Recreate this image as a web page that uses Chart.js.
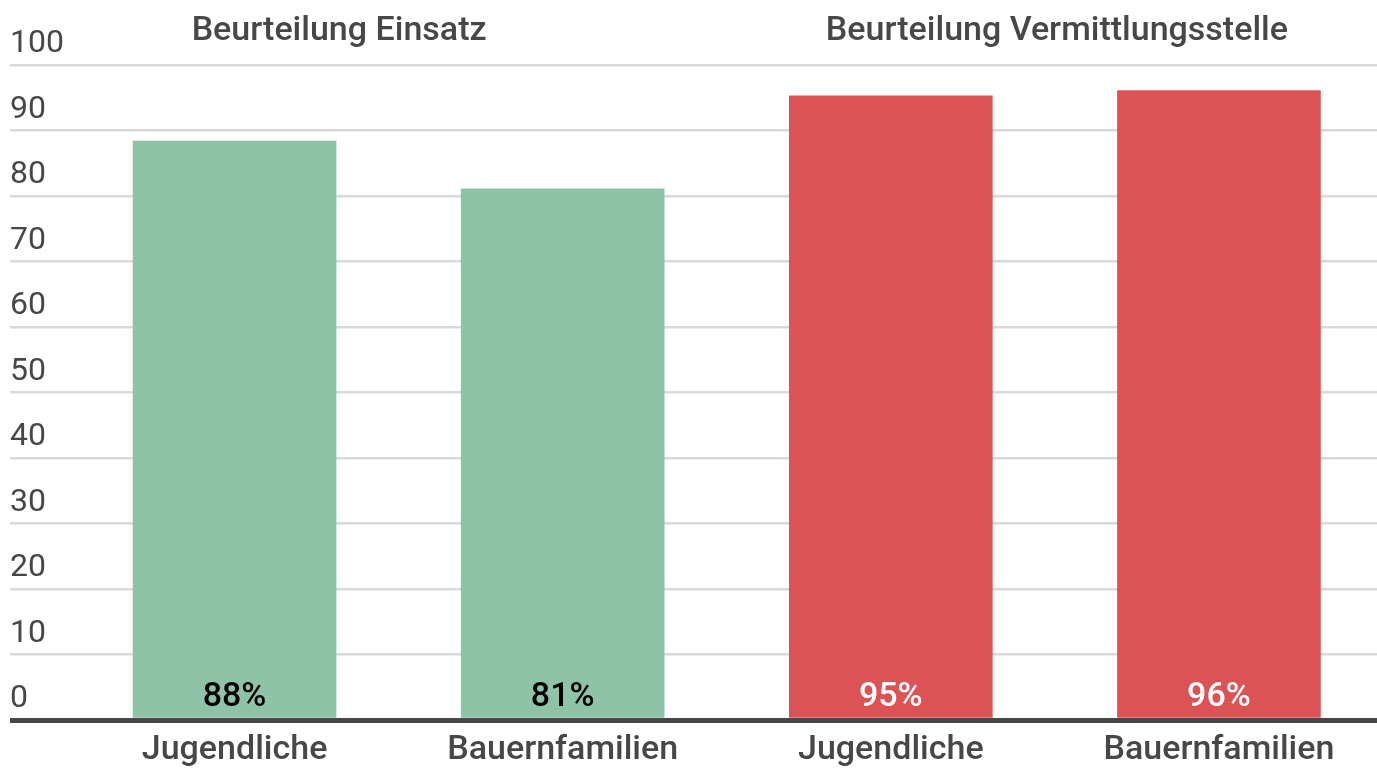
<!DOCTYPE html>
<html>
<head>
<meta charset="utf-8">
<script src="https://cdn.jsdelivr.net/npm/chart.js@4/dist/chart.umd.min.js"></script>
<style>
  html, body { margin: 0; padding: 0; background: #fff; overflow: hidden; }
  #wrap { width: 1377px; height: 768px; overflow: hidden; }
</style>
</head>
<body>
<div id="wrap"><canvas id="myChart" width="1383" height="768"></canvas></div>
<script>
// categories and values
var categories = ['Jugendliche', 'Bauernfamilien', 'Jugendliche', 'Bauernfamilien'];
var werte = [88.4, 81.1, 95.3, 96.1];
var gruppen = ['Beurteilung Einsatz', 'Beurteilung Vermittlungsstelle'];
var yTicks = [0, 10, 20, 30, 40, 50, 60, 70, 80, 90, 100];

var barColors = ['#8fc3a8', '#8fc3a8', '#dc5356', '#dc5356'];
var labelColors = ['#000000', '#000000', '#ffffff', '#ffffff'];
var textGray = '#474747';

// percent labels at the foot of each bar
var valueLabels = {
  id: 'valueLabels',
  afterDatasetsDraw: function(chart) {
    var ctx = chart.ctx;
    var meta = chart.getDatasetMeta(0);
    ctx.save();
    ctx.font = '500 34px Roboto';
    ctx.textAlign = 'center';
    ctx.textBaseline = 'alphabetic';
    meta.data.forEach(function(bar, i) {
      ctx.fillStyle = labelColors[i];
      ctx.fillText(Math.round(werte[i]) + '%', bar.x, bar.base - 12);
    });
    ctx.restore();
  }
};

// group headings above the pairs of bars
var groupTitles = {
  id: 'groupTitles',
  afterDraw: function(chart) {
    var ctx = chart.ctx;
    var bars = chart.getDatasetMeta(0).data;
    var left = chart.scales.y.left;
    var x1 = (left + bars[1].x + bars[1].width / 2) / 2 + 2;
    var x2 = (bars[2].x + bars[3].x) / 2 + 2;
    ctx.save();
    ctx.font = '500 34px Roboto';
    ctx.fillStyle = textGray;
    ctx.textAlign = 'center';
    ctx.textBaseline = 'alphabetic';
    ctx.fillText(gruppen[0], x1, 40);
    ctx.fillText(gruppen[1], x2, 40);
    ctx.restore();
  }
};

var ctx = document.getElementById('myChart').getContext('2d');

var chart = new Chart(ctx, {
  type: 'bar',
  data: {
    labels: categories,
    datasets: [{
      data: werte,
      backgroundColor: barColors,
      borderWidth: 0,
      barThickness: 203
    }]
  },
  options: {
    responsive: false,
    animation: false,
    layout: { padding: { top: 65, left: 10, right: 0, bottom: 0 } },
    plugins: {
      legend: { display: false },
      tooltip: { enabled: false }
    },
    scales: {
      x: {
        z: 1,
        grid: { display: false, drawTicks: false },
        border: { display: true, color: '#474747', width: 5 },
        ticks: {
          color: textGray,
          font: { family: 'Roboto', size: 34, weight: '500' },
          padding: 10,
          maxRotation: 0
        },
        afterFit: function(scale) { scale.height = 48; }
      },
      y: {
        min: 0,
        max: 100,
        afterBuildTicks: function(scale) {
          scale.ticks = yTicks.map(function(v) { return { value: v }; });
        },
        border: { display: false },
        grid: {
          color: function(c) { return c.tick && c.tick.value === 0 ? '#474747' : '#d9d9d9'; },
          lineWidth: function(c) { return c.tick && c.tick.value === 0 ? 5 : 2.5; },
          drawTicks: true,
          tickLength: 60.5
        },
        ticks: {
          color: textGray,
          font: { family: 'Roboto', size: 32 },
          crossAlign: 'far',
          labelOffset: -21,
          padding: 0
        },
        afterFit: function(scale) { scale.width = 60.5; }
      }
    }
  },
  plugins: [valueLabels, groupTitles]
});
</script>
</body>
</html>
